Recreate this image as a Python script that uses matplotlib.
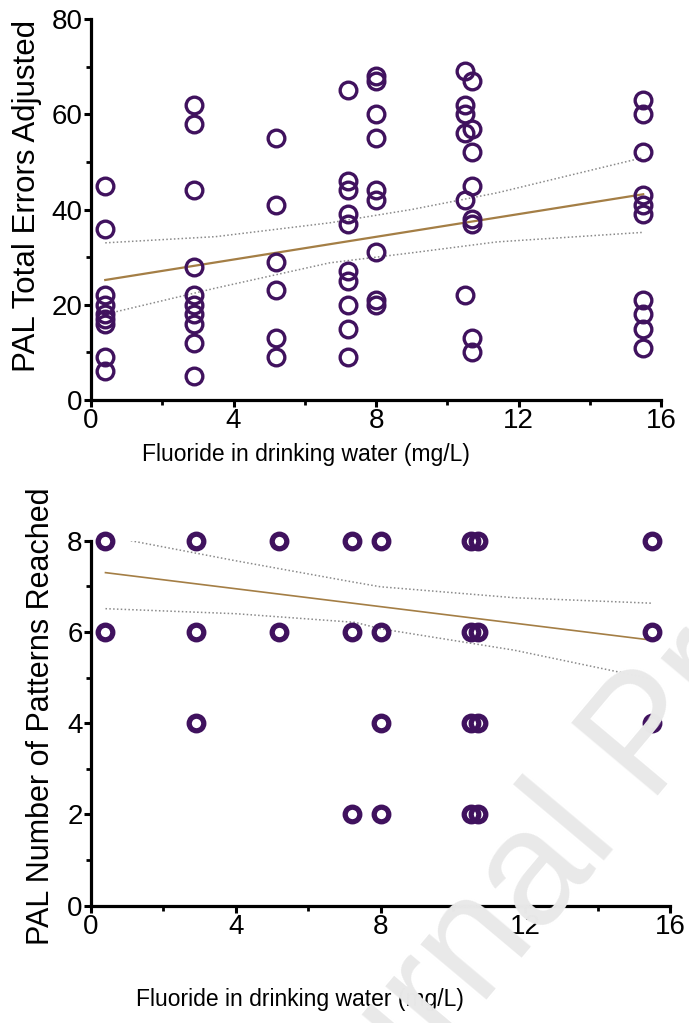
import numpy as np
import matplotlib
matplotlib.use('Agg')
import matplotlib.pyplot as plt
from matplotlib.ticker import MultipleLocator

plt.rcParams['font.family'] = ['Liberation Sans', 'DejaVu Sans']

# fluoride levels (mg/L) of the sampled communities
fluoride = [0.4, 2.9, 5.2, 7.2, 8.0, 10.5, 10.7, 15.5]

# PAL total errors adjusted, one list per fluoride level
errors = [
    [45, 36, 22, 20, 18, 17, 16, 9, 6],
    [62, 58, 44, 28, 22, 20, 18, 16, 12, 5],
    [55, 41, 29, 23, 13, 9],
    [65, 46, 44, 39, 37, 27, 25, 20, 15, 9],
    [68, 67, 60, 55, 44, 42, 31, 21, 20],
    [69, 62, 60, 56, 42, 22],
    [67, 57, 52, 45, 38, 37, 13, 10],
    [63, 60, 52, 43, 41, 39, 21, 18, 15, 11],
]

# PAL number of patterns reached, one list per fluoride level
patterns = [
    [8, 6],
    [8, 6, 4],
    [8, 6],
    [8, 6, 2],
    [8, 6, 4, 2],
    [8, 6, 4, 2],
    [8, 6, 4, 2],
    [8, 6, 4],
]

# regression line and 95% band
err_fit_x = [0.4, 15.5]
err_fit_y = [25.2, 43.2]
err_band_x = [0.4, 3.5, 6.7, 9.0, 11.4, 15.5]
err_upper = [33.0, 34.3, 37.2, 40.0, 43.5, 50.9]
err_lower = [18.0, 23.5, 28.8, 30.9, 33.2, 35.2]

pat_fit_x = [0.4, 15.5]
pat_fit_y = [7.30, 5.82]
pat_up_x = [1.1, 4.0, 7.2, 8.0, 11.7, 15.5]
pat_upper = [8.00, 7.56, 7.10, 6.99, 6.75, 6.63]
pat_lo_x = [0.4, 4.0, 7.3, 8.0, 11.7, 15.5]
pat_lower = [6.51, 6.40, 6.21, 6.07, 5.60, 4.97]

PURPLE = "#40125e"
FIT = "#a47e45"
BAND = "#8a8a8a"


def style_axis(ax, ymax, ymajor, yminor):
    ax.set_xlim(0, 16)
    ax.set_ylim(0, ymax)
    for side in ["top", "right"]:
        ax.spines[side].set_visible(False)
    for side in ["left", "bottom"]:
        ax.spines[side].set_linewidth(2.3)
    ax.xaxis.set_major_locator(MultipleLocator(4))
    ax.xaxis.set_minor_locator(MultipleLocator(2))
    ax.yaxis.set_major_locator(MultipleLocator(ymajor))
    ax.yaxis.set_minor_locator(MultipleLocator(yminor))
    ax.tick_params(which="major", direction="out", length=5, width=2.2,
                   labelsize=20, pad=1)
    ax.tick_params(which="minor", direction="out", length=3.5, width=2.0)


fig = plt.figure(figsize=(6.89, 10.23), dpi=100)
ax1 = fig.add_axes([91 / 689, 1 - 400 / 1023, 570 / 689, 381 / 1023])
ax2 = fig.add_axes([91 / 689, 1 - 905.7 / 1023, 579 / 689, 365 / 1023])

# top panel
for x, ys in zip(fluoride, errors):
    ax1.plot([x] * len(ys), ys, "o", ms=12, mfc="none", mec=PURPLE, mew=2.4,
             clip_on=False, zorder=3)
ax1.plot(err_fit_x, err_fit_y, color=FIT, lw=1.6, zorder=2)
ax1.plot(err_band_x, err_upper, color=BAND, lw=1.1, ls=(0, (1, 1.5)), zorder=2)
ax1.plot(err_band_x, err_lower, color=BAND, lw=1.1, ls=(0, (1, 1.5)), zorder=2)
style_axis(ax1, 80, 20, 10)
ax1.set_ylabel("PAL Total Errors Adjusted", fontsize=22.5, va="center")
ax1.yaxis.set_label_coords(-0.112, 0.535)
ax1.set_xlabel("Fluoride in drinking water (mg/L)", fontsize=16.5, va="center")
ax1.xaxis.set_label_coords(0.377, -0.144)

# bottom panel
for x, ys in zip(fluoride, patterns):
    ax2.plot([x] * len(ys), ys, "o", ms=10.5, mfc="none", mec=PURPLE, mew=3.8,
             clip_on=False, zorder=3)
ax2.plot(pat_fit_x, pat_fit_y, color=FIT, lw=1.2, zorder=2)
ax2.plot(pat_up_x, pat_upper, color=BAND, lw=1.1, ls=(0, (1, 1.5)), zorder=2)
ax2.plot(pat_lo_x, pat_lower, color=BAND, lw=1.1, ls=(0, (1, 1.5)), zorder=2)
style_axis(ax2, 8, 2, 1)
ax2.set_ylabel("PAL Number of Patterns Reached", fontsize=22, va="center")
ax2.yaxis.set_label_coords(-0.086, 0.52)
ax2.set_xlabel("Fluoride in drinking water (mg/L)", fontsize=16.5, va="center")
ax2.xaxis.set_label_coords(0.36, -0.258)

# publisher watermark
fig.text(650 / 689, 1 - 740 / 1023, "Journal Pre-proof", fontsize=118,
         color="#e9e9e9", rotation=50, ha="center", va="center",
         rotation_mode="anchor", zorder=10)

fig.savefig("out.png", dpi=100, facecolor="white")
